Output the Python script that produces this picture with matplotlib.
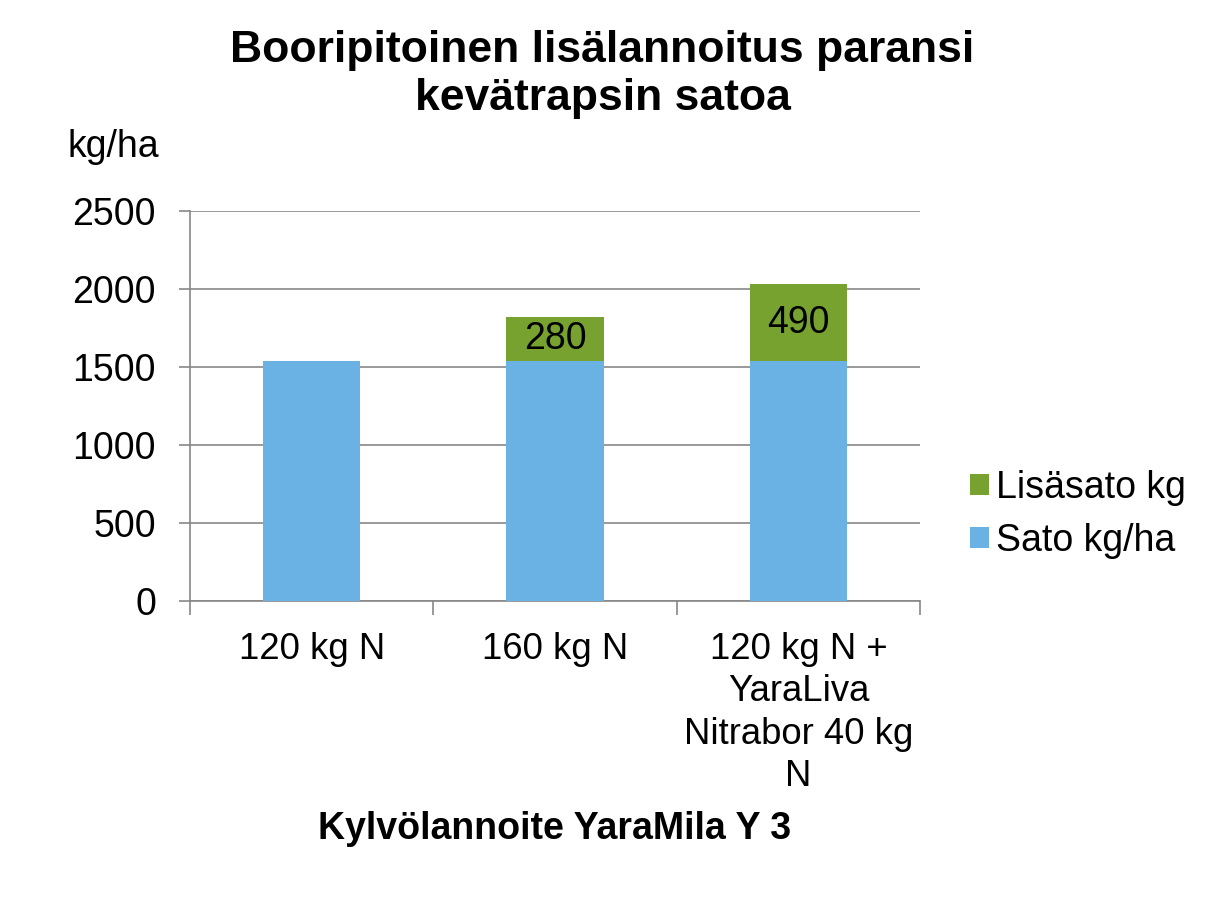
import numpy as np
import matplotlib.pyplot as plt

# data
categories = ['120 kg N', '160 kg N', '120 kg N +\nYaraLiva\nNitrabor 40 kg\nN']
sato = [1540, 1540, 1540]          # Sato kg/ha
lisasato = [0, 280, 490]           # Lisäsato kg
lisa_labels = ['', '280', '490']

plt.rcParams['font.family'] = ['Liberation Sans', 'DejaVu Sans']

blue = '#6AB2E4'
green = '#77A22F'
grid = '#878787'
fs = 27

fig = plt.figure(figsize=(12.05, 8.97), dpi=100)
ax = fig.add_axes([0.1577, 0.33, 0.6058, 0.4348])

x = np.arange(len(categories))
w = 0.4
ax.bar(x, sato, width=w, color=blue, label='Sato kg/ha', zorder=3)
ax.bar(x, lisasato, width=w, bottom=sato, color=green, label='Lisäsato kg', zorder=3)

for xi, s, l, t in zip(x, sato, lisasato, lisa_labels):
    if t:
        ax.text(xi, s + l / 2, t, ha='center', va='center', fontsize=fs, zorder=4)

ax.set_xlim(-0.5, len(categories) - 0.5)
ax.set_ylim(0, 2500)
ax.set_yticks(np.arange(0, 2501, 500))
ax.yaxis.grid(True, color=grid, linewidth=1.2, zorder=0)
ax.set_axisbelow(True)

for s in ['top', 'right']:
    ax.spines[s].set_visible(False)
for s in ['left', 'bottom']:
    ax.spines[s].set_color(grid)
    ax.spines[s].set_linewidth(1.2)

ax.set_xticks(x)
ax.set_xticklabels(categories, fontsize=26.3, linespacing=1.28)
ax.set_xticks(np.arange(-0.5, len(categories)), minor=True)
ax.tick_params(axis='x', which='major', length=0, pad=22)
ax.tick_params(axis='x', which='minor', length=10, color=grid, width=1.2)
ax.tick_params(axis='y', length=8, color=grid, width=1.2, labelsize=fs, pad=16.5)

ax.set_xlabel('Kylvölannoite YaraMila Y 3', fontsize=fs, fontweight='bold', labelpad=12)
fig.text(0.056, 0.836, 'kg/ha', fontsize=fs, ha='left', va='center')

fig.suptitle('Booripitoinen lisälannoitus paransi\nkevätrapsin satoa',
             fontsize=32, fontweight='bold', x=0.5, y=0.966, va='top', linespacing=1.2)

h, lab = ax.get_legend_handles_labels()
ax.legend(h[::-1], lab[::-1], loc='center left', bbox_to_anchor=(1.022, 0.222),
          frameon=False, fontsize=fs, handlelength=0.5, handleheight=0.5,
          handletextpad=0.2, labelspacing=0.45)

fig.savefig('out.png', dpi=100)
